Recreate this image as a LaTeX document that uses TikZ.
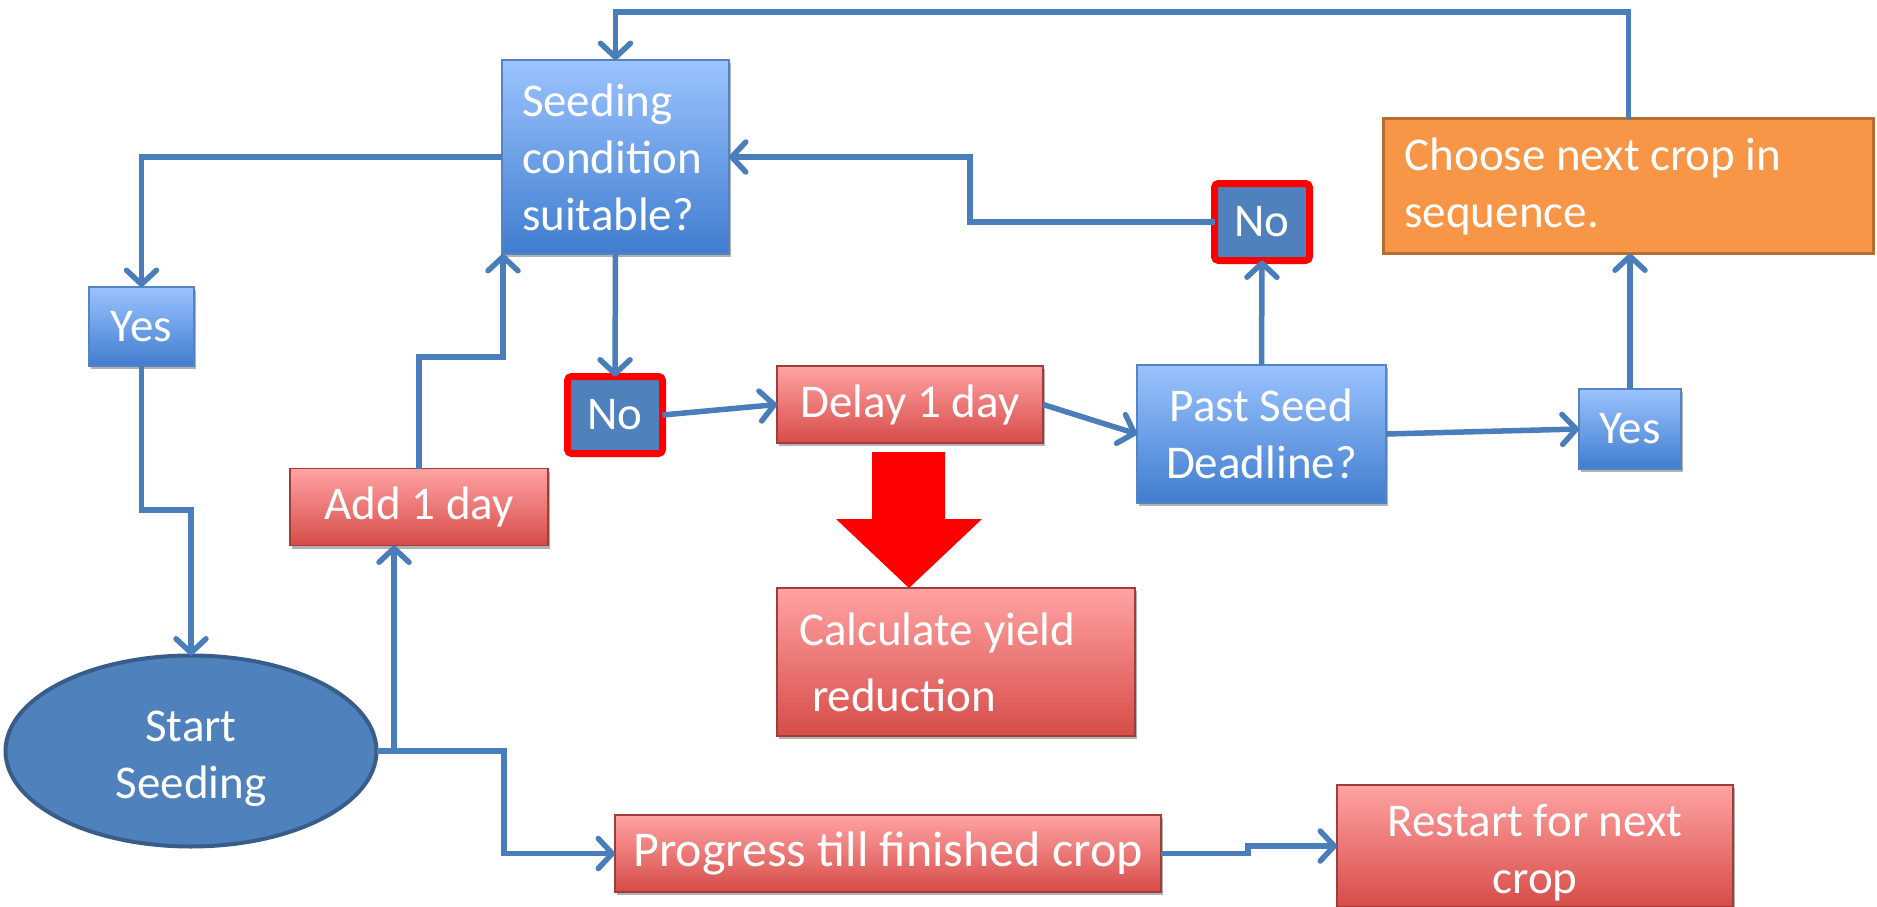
\documentclass[tikz,border=0pt]{standalone}
\usepackage{fontspec}
\setmainfont{Carlito}
\usetikzlibrary{arrows.meta,shadows,shapes.geometric}
\definecolor{conn}{RGB}{74,126,187}
\definecolor{bluetop}{RGB}{155,195,255}
\definecolor{bluebot}{RGB}{64,125,206}
\definecolor{blueline}{RGB}{84,132,196}
\definecolor{redtop}{RGB}{255,163,163}
\definecolor{redbot}{RGB}{214,76,72}
\definecolor{redline}{RGB}{160,60,58}
\definecolor{nofill}{RGB}{79,129,189}
\definecolor{ellline}{RGB}{56,93,138}
\definecolor{orangefill}{RGB}{247,150,70}
\definecolor{orangeline}{RGB}{182,109,49}
\begin{document}
\begin{tikzpicture}[x=1pt,y=-1pt,
  every node/.style={text=white, font=\fontsize{47}{57}\selectfont, inner sep=0pt, outer sep=0pt},
  shad/.style={drop shadow={shadow xshift=2pt,shadow yshift=-3pt,opacity=0.3,fill=black}},
  bluebox/.style={shad, top color=bluetop, bottom color=bluebot, draw=blueline, line width=1.5pt},
  redbox/.style={shad, top color=redtop, bottom color=redbot, draw=redline, line width=1.5pt},
  nobox/.style={fill=nofill, draw=red, line width=7pt, rounded corners=4pt, minimum width=95pt, minimum height=77pt},
  arr/.style={draw=conn, line width=5.5pt, -{Straight Barb[length=14pt,width=30pt,round]}}
]
\useasboundingbox (0,0) rectangle (1877,907);
\clip (0,0) rectangle (1877,907);

% nodes
\node[bluebox, minimum width=227pt, minimum height=194pt, text width=187pt, inner xsep=20pt, align=flush left] (seed) at (615.5,157) {Seeding\\condition\\suitable?};
\node[bluebox, minimum width=105pt, minimum height=79pt] (yesL) at (141.5,326.5) {Yes};
\node[ellipse, fill=nofill, draw=ellline, line width=4pt, minimum width=371pt, minimum height=191pt, align=center] (start) at (191,751) {\rule{0pt}{46pt}Start\\Seeding};
\node[redbox, minimum width=258pt, minimum height=77pt] (add) at (419,507) {Add 1 day};
\node[nobox] (noL) at (615,415) {No};
\node[redbox, minimum width=266pt, minimum height=77pt] (delay) at (910,404.5) {Delay 1 day};
\node[redbox, minimum width=358pt, minimum height=148pt, text width=314pt, inner xsep=22pt, align=flush left, font=\fontsize{47}{66}\selectfont] (calc) at (956,662) {Calculate yield\\\hspace*{13pt}reduction};
\node[bluebox, minimum width=249pt, minimum height=138pt, align=center] (past) at (1261.5,434) {Past Seed\\Deadline?};
\node[bluebox, minimum width=102pt, minimum height=80pt] (yesR) at (1630,429) {Yes};
\node[nobox] (noR) at (1262,222) {No};
\node[fill=orangefill, draw=orangeline, line width=3.5pt, minimum width=490pt, minimum height=135pt, text width=448pt, inner xsep=21pt, align=flush left] (choose) at (1628.5,186) {Choose next crop in\\sequence.};
\node[redbox, minimum width=546pt, minimum height=77pt, font=\fontsize{50}{60}\selectfont] (prog) at (888,853.5) {Progress till finished crop};
\node[redbox, minimum width=396pt, minimum height=122pt, align=center] (restart) at (1535,846) {\rule{0pt}{46pt}Restart for next\\crop};

% big red arrow
\fill[red] (872,452) -- (945,452) -- (945,519) -- (982,519) -- (909,588) -- (836,519) -- (872,519) -- cycle;

% helper coordinates
\coordinate (topL) at (615.5,12);
\coordinate (yl) at (141.5,510);
\coordinate (j1) at (394,751);
\coordinate (j2) at (504,751);
\coordinate (j3) at (503,357);
\coordinate (j4) at (970,157);
\coordinate (j5) at (1248,853.5);

% connectors
\draw[arr] (choose.north) |- (topL) -- (seed.north);
\draw[arr] (seed.west) -| (yesL.north);
\draw[arr] (yesL.south) -- (yl) -| (start.north);
\draw[arr] (start.east) -- (j1) -- (j1 |- add.south);
\draw[arr] (j1) -- (j2) |- (prog.west);
\draw[arr] (add.north) |- (j3) -- (j3 |- seed.south);
\draw[arr] (seed.south) -- (noL.north);
\draw[arr] (noL.east) -- (delay.west);
\draw[arr] (delay.east) -- (past.west);
\draw[arr] (past.east) -- (yesR.west);
\draw[arr] (past.north) -- (noR.south);
\draw[arr] (noR.west) -| (j4) -- (seed.east);
\draw[arr] (yesR.north) -- (yesR.north |- choose.south);
\draw[arr] (prog.east) -- (j5) |- (restart.west);
\end{tikzpicture}
\end{document}
